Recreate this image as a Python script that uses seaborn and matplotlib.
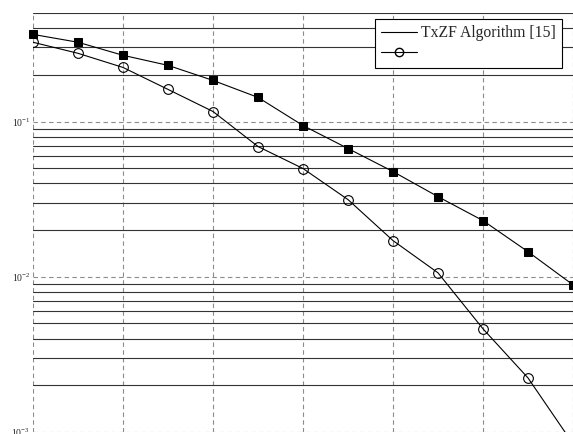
import numpy as np
import pandas as pd
import seaborn as sns
import matplotlib.pyplot as plt
from matplotlib.lines import Line2D
from matplotlib.ticker import LogLocator, NullFormatter

# --- Data ---
snr_db = [0, 1, 2, 3, 4, 5, 6, 7, 8, 9, 10, 11, 12]
ber_txzf = [0.364, 0.324, 0.267, 0.230, 0.184, 0.143, 0.0942,
            0.067, 0.0476, 0.0328, 0.0230, 0.0145, 0.00887]
ber_proposed = [0.324, 0.275, 0.223, 0.161, 0.116, 0.069, 0.0498,
                0.0314, 0.0171, 0.0106, 0.00462, 0.00223, 0.00084]
legend_labels = ['TxZF Algorithm [15]', '']

df_txzf = pd.DataFrame({'snr': snr_db, 'ber': ber_txzf})
df_prop = pd.DataFrame({'snr': snr_db, 'ber': ber_proposed})

# --- Style ---
sns.set_style('white')
plt.rcParams['font.family'] = ['Liberation Serif', 'DejaVu Serif']
plt.rcParams['mathtext.fontset'] = 'stix'

fig = plt.figure(figsize=(5.73, 4.34), dpi=100)
ax = fig.add_axes([33 / 573, 2 / 434, 1 - 33 / 573, (432 - 13) / 434])

sns.lineplot(data=df_txzf, x='snr', y='ber', ax=ax, color='black',
             linewidth=0.8, marker='s', markersize=6, markerfacecolor='black',
             markeredgecolor='black', clip_on=False)
sns.lineplot(data=df_prop, x='snr', y='ber', ax=ax, color='black',
             linewidth=0.8, marker='o', markersize=7, markerfacecolor='none',
             markeredgecolor='black', markeredgewidth=0.8)

ax.set_yscale('log')
ax.set_xlim(0, 12)
ax.set_ylim(1e-3, 0.5)
ax.set_xticks(np.arange(0, 13, 2))
ax.set_xticklabels([])
ax.yaxis.set_major_locator(LogLocator(base=10, numticks=10))
ax.yaxis.set_minor_locator(LogLocator(base=10, subs=np.arange(2, 10), numticks=20))
ax.yaxis.set_minor_formatter(NullFormatter())

# grid: dashed majors, solid minors
ax.grid(True, which='major', axis='both', linestyle=(0, (4, 3)),
        color='#8c8c8c', linewidth=0.8)
ax.grid(True, which='minor', axis='y', linestyle='-', color='#333333',
        linewidth=0.8)
ax.tick_params(axis='both', which='both', length=0, labelsize=7, pad=2)
ax.set_xlabel('')
ax.set_ylabel('')
for s in ax.spines.values():
    s.set_visible(False)

handles = [Line2D([], [], color='black', linewidth=0.8),
           Line2D([], [], color='black', linewidth=0.8, marker='o',
                  markersize=6, markerfacecolor='none', markeredgecolor='black')]
leg = ax.legend(handles, legend_labels, loc='upper right',
                bbox_to_anchor=(0.98, 0.986), borderaxespad=0,
                fontsize=11.3, frameon=True, fancybox=False,
                edgecolor='black', framealpha=1, handlelength=2.3,
                handletextpad=0.25, borderpad=0.4, labelspacing=0.3)
leg.get_frame().set_linewidth(0.8)

fig.savefig('out.png', dpi=100)
